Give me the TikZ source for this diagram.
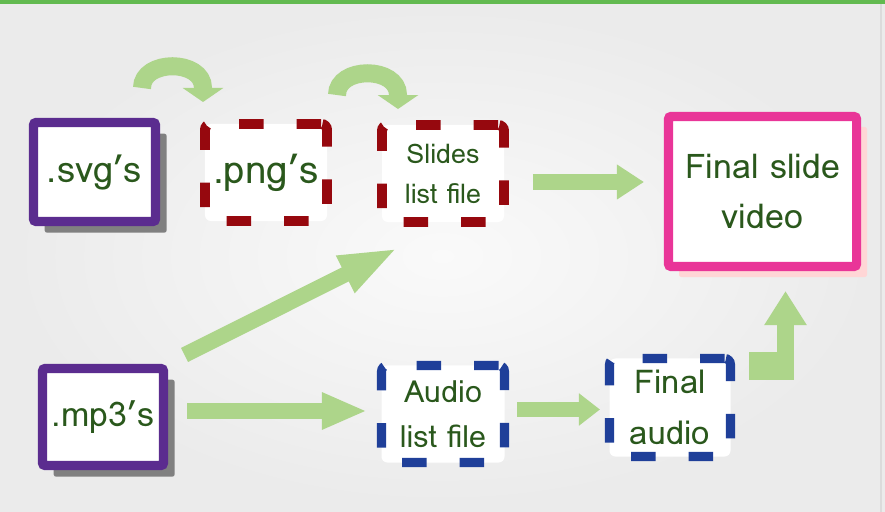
\documentclass[tikz,border=0pt]{standalone}
\usepackage{fontspec}
\setmainfont{Loma}
\usetikzlibrary{arrows.meta,shadows}

\definecolor{svgpurple}{RGB}{91,44,143}
\definecolor{pngred}{RGB}{150,8,14}
\definecolor{audioblue}{RGB}{31,63,153}
\definecolor{videopink}{RGB}{233,53,152}
\definecolor{labelgreen}{RGB}{42,88,28}
\definecolor{arrowgreen}{RGB}{173,213,138}
\definecolor{shadowgray}{RGB}{128,128,128}
\definecolor{pinkshadow}{RGB}{255,214,214}
\definecolor{topgreen}{RGB}{98,186,80}

\begin{document}
\begin{tikzpicture}[x=0.03cm,y=-0.03cm,
	solidbox/.style={draw, line width=7.7pt, fill=white, rounded corners=2pt,
		inner sep=0pt, align=center, text=labelgreen},
	dashbox/.style={draw, line width=7.7pt, fill=white, rounded corners=5pt,
		inner sep=0pt, align=center, text=labelgreen, dash pattern=on 21pt off 28pt},
	grayshadow/.style={drop shadow={shadow xshift=0.335cm, shadow yshift=-0.335cm,
		fill=shadowgray, opacity=1}},
	fatarrow/.style={draw=arrowgreen, line width=0.48cm},
	bendarrow/.style={draw=arrowgreen, line width=0.54cm,
		-{Triangle[width=1.2cm,length=0.42cm]}}]
	
	% slide background
	\useasboundingbox (0,0) rectangle (885,512);
	\shade[inner color=white!98!black, outer color=white!92!black] (0,0) rectangle (885,512);
	\fill[topgreen] (0,0) rectangle (885,4);
	\draw[white!86!black, line width=1pt] (881,4) -- (881,512);
	
	% top row
	\node[solidbox, draw=svgpurple, grayshadow, minimum width=3.66cm, minimum height=2.97cm,
		font=\fontsize{31}{34}\selectfont] (SVG) at (94.5,172) {.svg’s};
	\node[dashbox, draw=pngred, line width=8.5pt, minimum width=3.66cm, minimum height=2.91cm,
		font=\fontsize{33}{34}\selectfont] (PNG) at (266,172.5) {.png’s};
	\node[dashbox, draw=pngred, line width=8.5pt, minimum width=3.66cm, minimum height=2.91cm,
		font=\fontsize{23}{34}\selectfont] (Slides) at (443,173.5) {Slides\\list file};
	\node[solidbox, draw=videopink, minimum width=5.64cm, minimum height=4.5cm,
		drop shadow={shadow xshift=0.315cm, shadow yshift=-0.315cm, fill=pinkshadow, opacity=1},
		font=\fontsize{29}{42}\selectfont] (Video) at (762.5,191.5) {Final slide\\video};
	
	% bottom row
	\node[solidbox, draw=svgpurple, grayshadow, minimum width=3.63cm, minimum height=2.91cm,
		font=\fontsize{29}{32}\selectfont] (MP3) at (103,417) {.mp3’s};
	\node[dashbox, draw=audioblue, minimum width=3.69cm, minimum height=2.91cm,
		font=\fontsize{26}{38}\selectfont] (AudioList) at (443,414) {Audio\\list file};
	\node[dashbox, draw=audioblue, minimum width=3.63cm, minimum height=2.94cm,
		font=\fontsize{28}{44}\selectfont] (FinalAudio) at (670,407.5) {Final\\audio};
	
	% curved arrows over the top row
	\draw[bendarrow] ([shift={(47.5,-30)}]SVG.north) .. controls +(0,-29) and +(0,-29) .. ++(61,0) -- ++(0,14);
	\draw[bendarrow] ([shift={(71,-24)}]PNG.north) .. controls +(0,-29) and +(0,-29) .. ++(61,0) -- ++(0,14);
	
	% block arrows
	\draw[fatarrow, -{Triangle[width=0.99cm,length=0.81cm]}]
		([shift={(24,8.5)}]Slides.east) -- ([shift={(-20,-9.5)}]Video.west);
	\draw[fatarrow, line width=0.47cm, -{Triangle[width=1.11cm,length=1.77cm]}]
		([shift={(16.5,-9)}]MP3.north east) -- ([shift={(-45,21)}]Slides.south);
	\draw[fatarrow, -{Triangle[width=1.02cm,length=1.35cm]}]
		([shift={(19,-6)}]MP3.east) -- ([shift={(-10,-3)}]AudioList.west);
	\draw[fatarrow, line width=0.45cm, -{Triangle[width=0.93cm,length=0.63cm]}]
		([shift={(8,-4.5)}]AudioList.east) -- ([shift={(-5,2)}]FinalAudio.west);
	
	% bent arrow up to the video
	\fill[arrowgreen] (749,352) rectangle (794,380);
	\draw[fatarrow, line width=0.51cm, -{Triangle[width=1.2cm,length=1.02cm]}]
		(785.5,366) -- ([shift={(23,20)}]Video.south);
	
\end{tikzpicture}
\end{document}
